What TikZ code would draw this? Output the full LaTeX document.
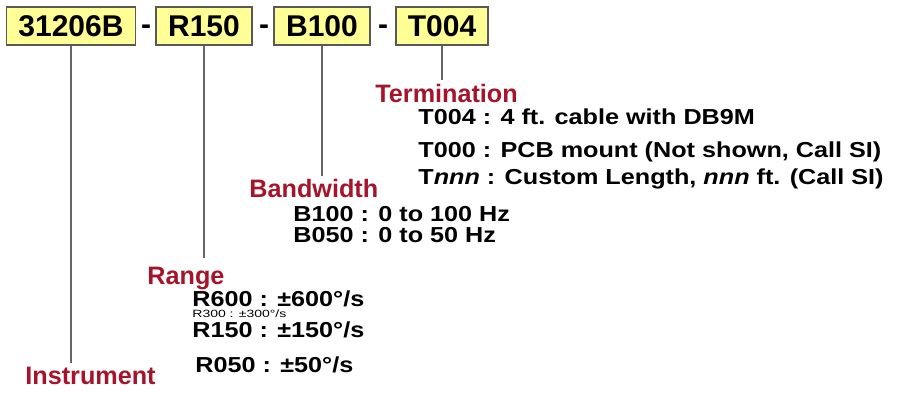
\documentclass[tikz,border=0pt]{standalone}
\usepackage{fontspec}
\usepackage{graphicx}
\setmainfont{Liberation Sans}
\newcommand{\squash}[2][0.86]{\scalebox{1}[#1]{#2}}
\begin{document}
\begin{tikzpicture}[x=0.5pt, y=-0.5pt, font=\bfseries\fontsize{12.6}{14}\selectfont]
	\definecolor{boxyellow}{RGB}{255,255,150}
	\definecolor{labelred}{RGB}{165,20,42}
	\tikzset{
		codebox/.style={draw=black!65, line width=0.8pt, fill=boxyellow, inner xsep=6pt, inner ysep=4pt,
			minimum height=19pt, text height=10.7pt, text depth=0pt, font=\bfseries\fontsize{15}{17}\selectfont},
		dashsep/.style={anchor=base, inner sep=0pt, font=\bfseries\fontsize{15}{17}\selectfont},
		stem/.style={line width=1pt, black!60},
		head/.style={labelred, anchor=base west, inner sep=0pt},
		item/.style={anchor=base west, inner sep=0pt},
	}
	\useasboundingbox (0,0) rectangle (899,394);
	
	% 型号代码框
	\node[codebox] (b1) at (71,26) {31206B};
	\node[codebox] (b2) at (204,26) {R150};
	\node[codebox] (b3) at (322,26) {B100};
	\node[codebox] (b4) at (442,26) {T004};
	\node[dashsep] (d1) at (146,35) {-};
	\node[dashsep] (d2) at (264,35) {-};
	\node[dashsep] (d3) at (383,35) {-};
	
	% 引线
	\coordinate (e1) at (71,363);
	\coordinate (e2) at (204,258);
	\coordinate (e3) at (322,176);
	\coordinate (e4) at (442,80);
	\foreach \i in {1,...,4}
		\draw[stem] (b\i.south) -- (e\i);
	
	% Termination
	\node[head] (term) at (375,103) {Termination};
	\node[item] (t1) at (418,125) {\squash{T004 : 4 ft. cable with DB9M}};
	\node[item] (t2) at (418,158) {\squash{T000 : PCB mount (Not shown, Call SI)}};
	\node[item] (t3) at (418,185) {\squash{T\textit{nnn} : Custom Length, \textit{nnn} ft. (Call SI)}};
	
	% Bandwidth
	\node[head] (band) at (249,198) {Bandwidth};
	\node[item] (w1) at (293,222) {\squash{B100 : 0 to 100 Hz}};
	\node[item] (w2) at (293,243) {\squash{B050 : 0 to 50 Hz}};
	
	% Range
	\node[head] (range) at (147,285) {Range};
	\node[item] (r1) at (192,307) {\squash{R600 : ±600°/s}};
	\node[item, font=\mdseries\fontsize{7}{8}\selectfont] (r2) at (192,318) {\squash[0.75]{R300 : ±300°/s}};
	\node[item] (r3) at (192,338) {\squash{R150 : ±150°/s}};
	\node[item] (r4) at (195,373) {\squash{R050 : ±50°/s}};
	
	% Instrument
	\node[head] (inst) at (25,385) {Instrument};
\end{tikzpicture}
\end{document}
